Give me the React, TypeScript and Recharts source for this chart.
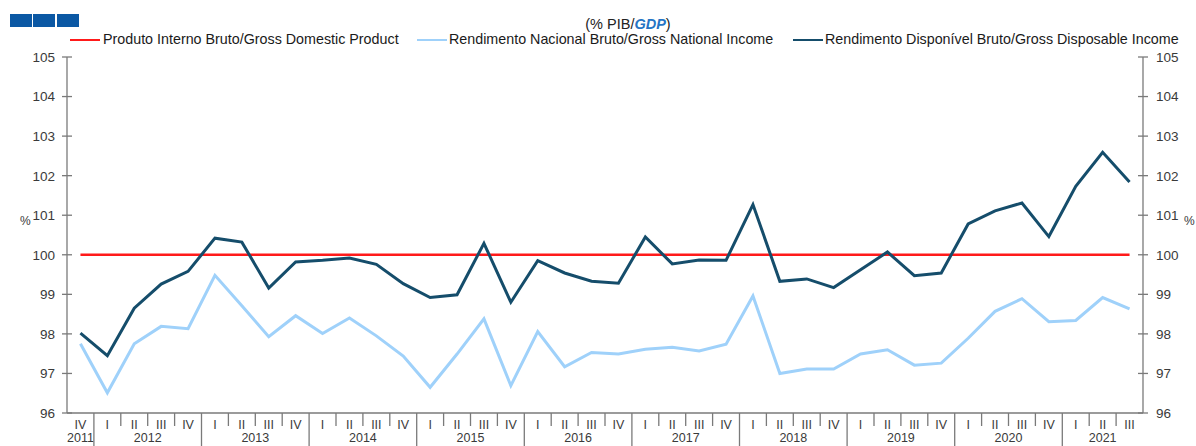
import React from 'react';
import { LineChart, Line, XAxis, YAxis } from 'recharts';

const categories = [
  '2011 IV',
  '2012 I', '2012 II', '2012 III', '2012 IV',
  '2013 I', '2013 II', '2013 III', '2013 IV',
  '2014 I', '2014 II', '2014 III', '2014 IV',
  '2015 I', '2015 II', '2015 III', '2015 IV',
  '2016 I', '2016 II', '2016 III', '2016 IV',
  '2017 I', '2017 II', '2017 III', '2017 IV',
  '2018 I', '2018 II', '2018 III', '2018 IV',
  '2019 I', '2019 II', '2019 III', '2019 IV',
  '2020 I', '2020 II', '2020 III', '2020 IV',
  '2021 I', '2021 II', '2021 III',
];

const gdp = categories.map(() => 100);

const gni = [
  97.75, 96.51, 97.75, 98.19, 98.13, 99.48, 98.71, 97.93, 98.46, 98.01,
  98.4, 97.95, 97.44, 96.65, 97.49, 98.38, 96.69, 98.06, 97.17, 97.53,
  97.49, 97.61, 97.66, 97.57, 97.74, 98.96, 97.0, 97.11, 97.11, 97.49,
  97.6, 97.21, 97.26, 97.89, 98.57, 98.89, 98.31, 98.34, 98.92, 98.63,
];

const gdi = [
  98.02, 97.45, 98.65, 99.26, 99.58, 100.42, 100.32, 99.16, 99.82, 99.86,
  99.92, 99.76, 99.27, 98.92, 98.99, 100.29, 98.8, 99.85, 99.54, 99.33,
  99.28, 100.45, 99.77, 99.87, 99.86, 101.27, 99.33, 99.39, 99.17, 99.62,
  100.07, 99.47, 99.54, 100.78, 101.11, 101.31, 100.46, 101.73, 102.59, 101.84,
];

const yTicks = [96, 97, 98, 99, 100, 101, 102, 103, 104, 105];

const seriesNames = [
  'Produto Interno Bruto/Gross Domestic Product',
  'Rendimento Nacional Bruto/Gross National Income',
  'Rendimento Disponível Bruto/Gross Disposable Income',
];
const seriesColors = ['#ff1a1a', '#9fd1fa', '#154d6b'];

const data = categories.map((c, i) => ({ cat: c, gdp: gdp[i], gni: gni[i], gdi: gdi[i] }));

const W = 1196;
const H = 446;
const LEFT_W = 67;
const RIGHT_W = 53;
const TOP = 57;
const XH = 33;
const PLOT_W = W - LEFT_W - RIGHT_W;
const BW = PLOT_W / categories.length;
const FONT = '"Liberation Sans", Arial, sans-serif';
const AXIS_COLOR = '#7a7a7a';
const TEXT_COLOR = '#3a3a3a';

const yearOf = (c: string) => c.split(' ')[0];

function XTick(props: any) {
  const { x, y, payload } = props;
  const i: number = payload.index;
  const bw = BW;
  const [yr, q] = String(payload.value).split(' ');
  const firstOfYear = i === 0 || yearOf(categories[i - 1]) !== yr;
  let last = i;
  while (last + 1 < categories.length && yearOf(categories[last + 1]) === yr) last++;
  const center = (i + last) / 2;
  return (
    <g>
      <text x={x} y={y + 15.5} textAnchor="middle" fontSize={12.5} fill={TEXT_COLOR} fontFamily={FONT}>
        {q}
      </text>
      {i > 0 && (
        <line
          x1={x - bw / 2}
          x2={x - bw / 2}
          y1={y}
          y2={firstOfYear ? y + 40 : y + 13}
          stroke={AXIS_COLOR}
          strokeWidth={1.3}
        />
      )}
      {firstOfYear && (
        <text
          x={x + (center - i) * bw}
          y={y + 28.5}
          textAnchor="middle"
          fontSize={12.5}
          fill={TEXT_COLOR}
          fontFamily={FONT}
        >
          {yr}
        </text>
      )}
    </g>
  );
}

function LeftTick(props: any) {
  const { x, y, payload } = props;
  return (
    <g>
      <line x1={x - 5} x2={x + 5} y1={y} y2={y} stroke={AXIS_COLOR} strokeWidth={1.3} />
      <text x={x - 12} y={y} dy="0.36em" textAnchor="end" fontSize={13.5} fill={TEXT_COLOR} fontFamily={FONT}>
        {payload.value}
      </text>
    </g>
  );
}

function RightTick(props: any) {
  const { x, y, payload } = props;
  return (
    <g>
      <line x1={x - 5} x2={x + 5} y1={y} y2={y} stroke={AXIS_COLOR} strokeWidth={1.3} />
      <text x={x + 13} y={y} dy="0.36em" textAnchor="start" fontSize={13.5} fill={TEXT_COLOR} fontFamily={FONT}>
        {payload.value}
      </text>
    </g>
  );
}

const legendPos = [
  { line: 70, text: 103 },
  { line: 417, text: 449 },
  { line: 793, text: 825 },
];

export default function App() {
  return (
    <div style={{ position: 'absolute', left: 0, top: 0, width: W, height: H, background: '#fff', overflow: 'hidden', fontFamily: FONT }}>
      {/* logo blocks */}
      {[10, 33, 57].map((lx) => (
        <div key={lx} style={{ position: 'absolute', left: lx, top: 14, width: 22, height: 13, background: '#0b58a4' }} />
      ))}
      {/* title */}
      <div style={{ position: 'absolute', left: 0, width: 1256, top: 16, textAlign: 'center', fontSize: 14.5, color: '#222', lineHeight: '17px' }}>
        (% PIB/<span style={{ color: '#2574c4', fontStyle: 'italic', fontWeight: 'bold' }}>GDP</span>)
      </div>
      {/* legend */}
      {seriesNames.map((n, k) => (
        <React.Fragment key={n}>
          <div
            style={{
              position: 'absolute',
              left: legendPos[k].line,
              top: 38.5,
              width: 30,
              height: 2.6,
              background: seriesColors[k],
            }}
          />
          <div style={{ position: 'absolute', left: legendPos[k].text, top: 31, fontSize: 14.3, color: '#1a1a1a', lineHeight: '17px', whiteSpace: 'nowrap' }}>
            {n}
          </div>
        </React.Fragment>
      ))}
      {/* % labels */}
      <div style={{ position: 'absolute', left: 20, top: 214, fontSize: 12, color: TEXT_COLOR }}>%</div>
      <div style={{ position: 'absolute', left: 1184, top: 214, fontSize: 12, color: TEXT_COLOR }}>%</div>
      <div style={{ position: 'absolute', left: 0, top: 0 }}>
        <LineChart width={W} height={H} data={data} margin={{ top: TOP, right: 0, bottom: 0, left: 0 }}>
          <XAxis
            dataKey="cat"
            height={XH}
            interval={0}
            tickSize={0}
            tickMargin={0}
            tickLine={false}
            tick={<XTick />}
            padding={{ left: BW / 2, right: BW / 2 }}
            axisLine={{ stroke: AXIS_COLOR, strokeWidth: 1.3 }}
          />
          <YAxis
            yAxisId="left"
            orientation="left"
            width={LEFT_W}
            domain={[96, 105]}
            ticks={yTicks}
            interval={0}
            tickSize={0}
            tickMargin={0}
            tickLine={false}
            tick={<LeftTick />}
            axisLine={{ stroke: AXIS_COLOR, strokeWidth: 1.3 }}
            allowDataOverflow
          />
          <YAxis
            yAxisId="right"
            orientation="right"
            width={RIGHT_W}
            domain={[96, 105]}
            ticks={yTicks}
            interval={0}
            tickSize={0}
            tickMargin={0}
            tickLine={false}
            tick={<RightTick />}
            axisLine={{ stroke: AXIS_COLOR, strokeWidth: 1.3 }}
            allowDataOverflow
          />
          <Line yAxisId="left" dataKey="gdp" name={seriesNames[0]} stroke={seriesColors[0]} strokeWidth={2.6} dot={false} isAnimationActive={false} />
          <Line yAxisId="left" dataKey="gni" name={seriesNames[1]} stroke={seriesColors[1]} strokeWidth={3} dot={false} isAnimationActive={false} />
          <Line yAxisId="left" dataKey="gdi" name={seriesNames[2]} stroke={seriesColors[2]} strokeWidth={3} dot={false} isAnimationActive={false} />
        </LineChart>
      </div>
    </div>
  );
}
